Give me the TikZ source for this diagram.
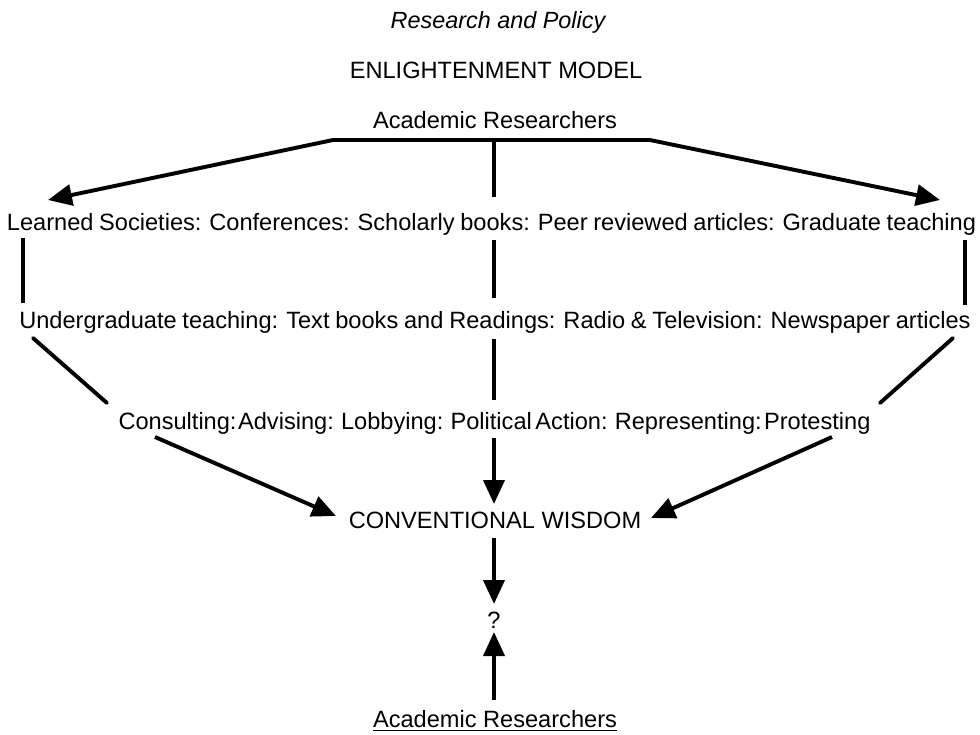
\documentclass[tikz,border=0pt]{standalone}
\usepackage{fontspec}
\setmainfont{Liberation Sans}
\usetikzlibrary{arrows.meta}
\begin{document}
\begin{tikzpicture}[x=0.5pt,y=-0.5pt,
  txt/.style={inner sep=0pt,anchor=base,font=\fontsize{11.8pt}{14pt}\selectfont},
  conn/.style={line width=1.95pt},
  arr/.style={conn,-{Triangle[length=12pt,width=10.5pt]}},
  arr2/.style={conn,{Triangle[length=12pt,width=10.5pt]}-{Triangle[length=12pt,width=10.5pt]}}]
\useasboundingbox (0,0) rectangle (980,734);
% texts
\node[txt,font=\fontsize{11.7pt}{14pt}\selectfont\itshape] (title) at (498,28) {Research and Policy};
\node[txt] (model) at (496,78) {ENLIGHTENMENT MODEL};
\node[txt] (top) at (495,128) {Academic Researchers};
\node[txt] (row1) at (491.5,230) {\spaceskip=2.85pt\relax Learned Societies: Conferences: Scholarly books: Peer reviewed articles: Graduate teaching};
\node[txt] (row2) at (495,328) {\spaceskip=2.9pt\relax Undergraduate teaching: Text books and Readings: Radio \& Television: Newspaper articles};
\node[txt] (row3) at (494.5,429) {\spaceskip=2.5pt\relax Consulting:\hspace{0.8pt}Advising: Lobbying: Political\hspace{1.8pt}Action: Representing:\hspace{1.2pt}Protesting};
\node[txt] (cw) at (495,528) {CONVENTIONAL WISDOM};
\node[txt] (q) at (494,628) {?};
\node[txt] (bottom) at (495,727) {\underline{Academic Researchers}};
% coordinates
\coordinate (h1) at (333,140);
\coordinate (h2) at (650,140);
\coordinate (hm) at (494,140);
\coordinate (tl) at (48,200);
\coordinate (tr) at (940,200);
\coordinate (m0) at (494,197);
\coordinate (l1a) at (23,238);
\coordinate (l1b) at (23,303);
\coordinate (m1a) at (494,240);
\coordinate (m1b) at (494,298);
\coordinate (r1a) at (965,240);
\coordinate (r1b) at (965,305);
\coordinate (l2a) at (33,338);
\coordinate (l2b) at (107,403);
\coordinate (m2a) at (494,339);
\coordinate (m2b) at (494,400);
\coordinate (r2a) at (953,338);
\coordinate (r2b) at (880,403);
\coordinate (l3a) at (155,437);
\coordinate (l3b) at (336,516);
\coordinate (m3a) at (494,438);
\coordinate (m3b) at (494,504);
\coordinate (r3a) at (832,437);
\coordinate (r3b) at (651,518);
\coordinate (c1a) at (494,538);
\coordinate (c1b) at (494,604);
\coordinate (b1a) at (494,700);
\coordinate (b1b) at (494,632);
% connectors
\draw[arr2] (tl) -- (h1) -- (h2) -- (tr);
\draw[conn] (hm) -- (m0);
\draw[conn] (l1a) -- (l1b);
\draw[conn] (m1a) -- (m1b);
\draw[conn] (r1a) -- (r1b);
\draw[conn,line cap=round] (l2a) -- (l2b);
\draw[conn] (m2a) -- (m2b);
\draw[conn,line cap=round] (r2a) -- (r2b);
\draw[arr] (l3a) -- (l3b);
\draw[arr] (m3a) -- (m3b);
\draw[arr] (r3a) -- (r3b);
\draw[arr] (c1a) -- (c1b);
\draw[arr] (b1a) -- (b1b);
\end{tikzpicture}
\end{document}
